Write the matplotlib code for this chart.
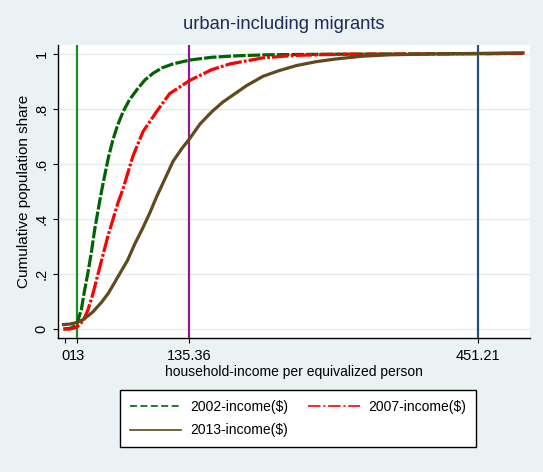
"""Cumulative population share by household income, urban incl. migrants"""
import matplotlib
matplotlib.use("Agg")
import matplotlib.pyplot as plt
from matplotlib.lines import Line2D

plt.rcParams['font.family'] = ['Liberation Sans', 'DejaVu Sans']
plt.rcParams['lines.scale_dashes'] = False

TITLE = "urban-including migrants"
X_LABEL = "household-income per equivalized person"
Y_LABEL = "Cumulative population share"

# income thresholds drawn as vertical lines
thresholds = [13, 135.36, 451.21]
threshold_colors = ['#1e8c1e', '#8e1c8e', '#26507c']
x_ticks = [0, 13, 135.36, 451.21]
x_tick_labels = ['0', '13', '135.36', '451.21']
y_ticks = [0, 0.2, 0.4, 0.6, 0.8, 1]
y_tick_labels = ['0', '.2', '.4', '.6', '.8', '1']

# 2002
inc_2002 = [-2, 5, 10, 13, 17.6, 21, 25, 28.5, 32, 35.7, 39.5, 43.1, 47.5, 52.2, 57,
            63.1, 70, 77.7, 86.8, 95.9, 106, 117.7, 136, 160, 185, 220, 280, 360, 500]
share_2002 = [0.0, 0.002, 0.01, 0.022, 0.072, 0.14, 0.21, 0.28, 0.36, 0.43, 0.50, 0.56,
              0.63, 0.69, 0.74, 0.79, 0.833, 0.868, 0.905, 0.93, 0.95, 0.964, 0.978,
              0.988, 0.993, 0.997, 0.999, 1.0, 1.002]

# 2007
inc_2007 = [-2, 5, 10, 13, 16, 19.4, 24.8, 30.3, 35.7, 41.2, 46.7, 52.2, 57.6, 63.1,
            68.5, 74, 84.9, 99.6, 114, 136, 147, 160, 180, 216, 252, 300, 400, 500]
share_2007 = [0.0, 0.0, 0.004, 0.008, 0.018, 0.03, 0.07, 0.13, 0.2, 0.27, 0.34, 0.40,
              0.46, 0.51, 0.57, 0.63, 0.718, 0.79, 0.856, 0.904, 0.922, 0.943, 0.964,
              0.986, 0.995, 0.999, 1.0, 1.002]

# 2013
inc_2013 = [-2, 5, 13, 20, 30, 39.5, 47, 54, 61, 68, 76, 85, 92, 99.6, 108, 117.7, 127,
            136, 147, 160, 172, 185, 198, 216, 234, 252.6, 274, 296, 325, 355, 400, 450, 500]
share_2013 = [0.016, 0.018, 0.024, 0.035, 0.062, 0.097, 0.13, 0.17, 0.21, 0.25, 0.31,
              0.37, 0.42, 0.48, 0.54, 0.61, 0.655, 0.693, 0.745, 0.79, 0.825, 0.855,
              0.885, 0.919, 0.94, 0.958, 0.972, 0.982, 0.992, 0.997, 1.0, 1.002, 1.004]

BG = '#eaf2f3'
fig = plt.figure(figsize=(5.43, 4.72), dpi=100, facecolor=BG)
ax = fig.add_axes([0.1068, 0.2839, 0.8692, 0.6208])
ax.set_facecolor('white')

for xv, c in zip(thresholds, threshold_colors):
    ax.axvline(xv, color=c, lw=1.6, zorder=3)

styles = {
    '2002': dict(color='#006400', ls=(0, (9, 1.5))),
    '2007': dict(color='#ff0000', ls=(0, (12, 1.5, 2, 1.5))),
    '2013': dict(color='#5e4a1c', ls='-'),
}
ax.plot(inc_2002, share_2002, lw=2.3, zorder=4, **styles['2002'])
ax.plot(inc_2007, share_2007, lw=2.3, zorder=4, **styles['2007'])
ax.plot(inc_2013, share_2013, lw=2.3, zorder=4, **styles['2013'])

ax.set_xlim(-8.0, 507.5)
ax.set_ylim(-0.0327, 1.0327)
ax.set_xticks(x_ticks, x_tick_labels)
ax.set_yticks(y_ticks, y_tick_labels)
ax.tick_params(axis='y', labelrotation=90, length=3.6, width=0.8, pad=3, labelsize=10.5)
ax.tick_params(axis='x', length=3.6, width=0.8, pad=4.5, labelsize=10.5)
for lbl in ax.get_yticklabels():
    lbl.set_va('center')
ax.grid(axis='y', color='#e2ecee', lw=1.0)
ax.set_axisbelow(True)
for s in ['top', 'right']:
    ax.spines[s].set_visible(False)
for s in ['left', 'bottom']:
    ax.spines[s].set_linewidth(1.0)

ax.set_xlabel(X_LABEL, fontsize=10, labelpad=1.5)
ax.set_ylabel(Y_LABEL, fontsize=11, labelpad=3)
fig.text(0.523, 0.949, TITLE, ha='center', va='center', fontsize=13.2, color='#1c2b57')

# column-major fill: 2002 / 2013 in column one, 2007 in column two
handles = [
    Line2D([], [], lw=1.2, color='#006400', ls=(0, (5, 2.5))),
    Line2D([], [], lw=1.2, color='#5e4a1c', ls='-'),
    Line2D([], [], lw=1.2, color='#ff0000', ls=(0, (9, 2, 1.5, 2))),
]
labels = ['2002-income($)', '2013-income($)', '2007-income($)']
leg = fig.legend(handles, labels, loc='upper left', bbox_to_anchor=(120 / 543, 1 - 390 / 472),
                 ncol=2, fontsize=10, frameon=True, fancybox=False, framealpha=1,
                 edgecolor='black', handlelength=3.7, handletextpad=0.65,
                 columnspacing=1.45, labelspacing=0.7, borderpad=0.7, borderaxespad=0)
leg.get_frame().set_linewidth(1.0)

fig.savefig('out.png', dpi=100, facecolor=BG)
